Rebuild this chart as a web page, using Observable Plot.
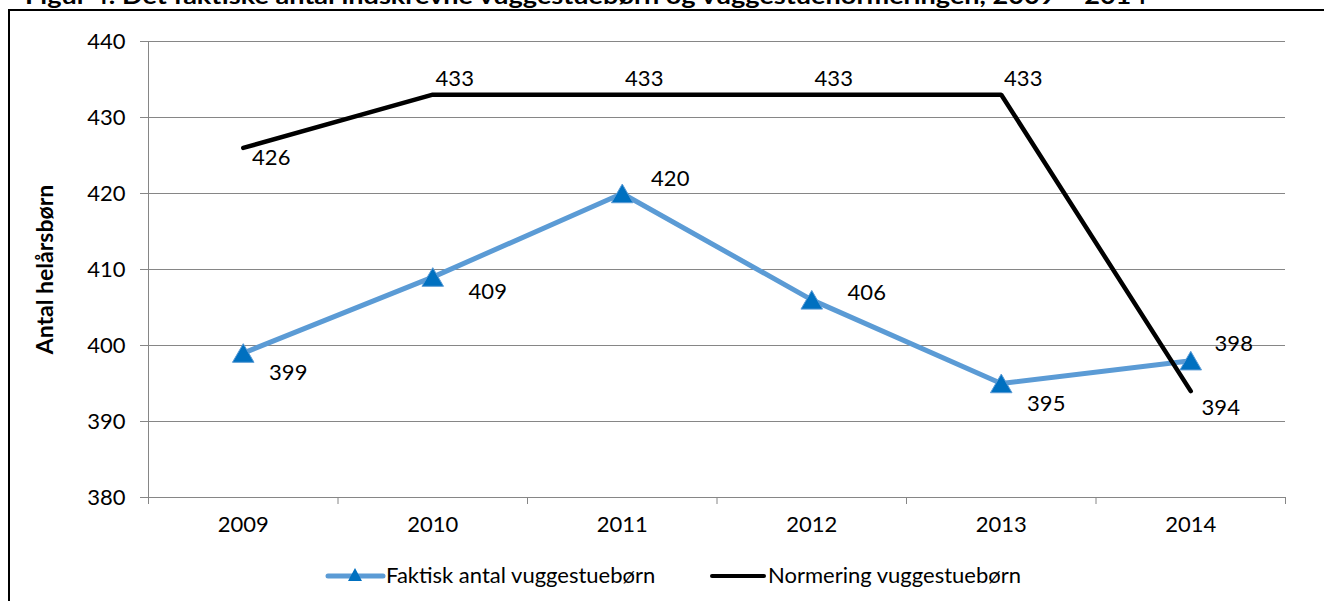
<!DOCTYPE html>
<html>
<head>
<meta charset="utf-8">
<script src="https://cdn.jsdelivr.net/npm/d3@7"></script>
<script src="https://cdn.jsdelivr.net/npm/@observablehq/plot@0.6"></script>
<style>
  html, body { margin: 0; padding: 0; background: #fff; }
  body { width: 1324px; height: 601px; position: relative; overflow: hidden; font-family: Lato, sans-serif; }
  #frame { position: absolute; left: 8px; top: 9px; width: 1320px; height: 700px; border-left: 2px solid #000; border-top: 2px solid #000; box-sizing: border-box; }
  #title { position: absolute; left: 0; top: 0; }
  #chart { position: absolute; left: 0; top: 0; }
  #legend { position: absolute; left: 0; top: 556px; }
</style>
</head>
<body>
<svg id="title" width="1324" height="9"><text x="25" y="4" textLength="1122" lengthAdjust="spacingAndGlyphs" font-family="Lato" font-weight="bold" font-size="22">Figur 4: Det faktiske antal indskrevne vuggestuebørn og vuggestuenormeringen, 2009 – 2014</text></svg>
<div id="frame"></div>
<div id="chart"></div>
<svg id="legend" width="1324" height="40">
  <line x1="328" y1="20" x2="383" y2="20" stroke="#5B9BD5" stroke-width="5" stroke-linecap="round"/>
  <path d="M355,12 L362,25 L348,25 Z" fill="#0070C0"/>
  <text x="386" y="27" font-family="Lato" font-size="22" fill="#000">Faktisk antal vuggestuebørn</text>
  <line x1="712" y1="20" x2="764" y2="20" stroke="#000" stroke-width="4" stroke-linecap="round"/>
  <text x="768" y="27" font-family="Lato" font-size="22" fill="#000">Normering vuggestuebørn</text>
</svg>
<script>
const years = [2009, 2010, 2011, 2012, 2013, 2014];
const faktisk = [399, 409, 420, 406, 395, 398];
const normering = [426, 433, 433, 433, 433, 394];
const yTicks = [380, 390, 400, 410, 420, 430, 440];
const xBounds = [2008.5, 2009.5, 2010.5, 2011.5, 2012.5, 2013.5, 2014.5];
const yTitle = "Antal helårsbørn";

const rows = years.map((year, i) => ({year, faktisk: faktisk[i], normering: normering[i]}));
const gray = "#868686";
const fs = 22;

function lab(key, year, dx, dy) {
  return Plot.text(rows, {filter: d => d.year === year, x: "year", y: key, text: d => String(d[key]), dx, dy, fontSize: fs, fill: "#000"});
}

const chart = Plot.plot({
  width: 1324,
  height: 545,
  marginLeft: 148,
  marginRight: 39,
  marginTop: 41,
  marginBottom: 48,
  style: {fontFamily: "Lato", fontSize: "22px", background: "transparent", overflow: "visible"},
  x: {type: "linear", domain: [2008.5, 2014.5], label: null},
  y: {domain: [380, 440], label: null},
  marks: [
    Plot.gridY(yTicks, {stroke: gray, strokeOpacity: 1}),
    Plot.ruleX([2008.5], {stroke: gray}),
    Plot.axisY(yTicks, {tickSize: 8, tickPadding: 15, stroke: gray, fill: "#000", fontSize: fs, label: null}),
    Plot.axisX(xBounds, {tickSize: 7, stroke: gray, tickFormat: () => "", label: null}),
    Plot.axisX(years, {tickSize: 0, tickPadding: 19, tickFormat: d => String(d), fill: "#000", fontSize: fs, label: null}),
    Plot.text([yTitle], {frameAnchor: "left", rotate: -90, dx: -103, textAnchor: "middle", text: d => d, fontWeight: "bold", fontSize: 23, fill: "#000"}),
    Plot.line(rows, {x: "year", y: "faktisk", stroke: "#5B9BD5", strokeWidth: 5}),
    Plot.dot(rows, {x: "year", y: "faktisk", symbol: "triangle", r: 8, dy: 3, fill: "#0070C0", stroke: "#5B9BD5", strokeWidth: 1}),
    Plot.line(rows, {x: "year", y: "normering", stroke: "#000", strokeWidth: 4.5, strokeLinecap: "round", strokeLinejoin: "miter"}),
    lab("faktisk", 2009, 45, 20),
    lab("faktisk", 2010, 55, 15),
    lab("faktisk", 2011, 48, -15),
    lab("faktisk", 2012, 55, -7),
    lab("faktisk", 2013, 45, 20),
    lab("faktisk", 2014, 43, -17),
    lab("normering", 2009, 28, 10),
    lab("normering", 2010, 22, -16),
    lab("normering", 2011, 22, -16),
    lab("normering", 2012, 22, -16),
    lab("normering", 2013, 22, -16),
    lab("normering", 2014, 30, 17)
  ]
});
document.getElementById("chart").appendChild(chart);
</script>
</body>
</html>
